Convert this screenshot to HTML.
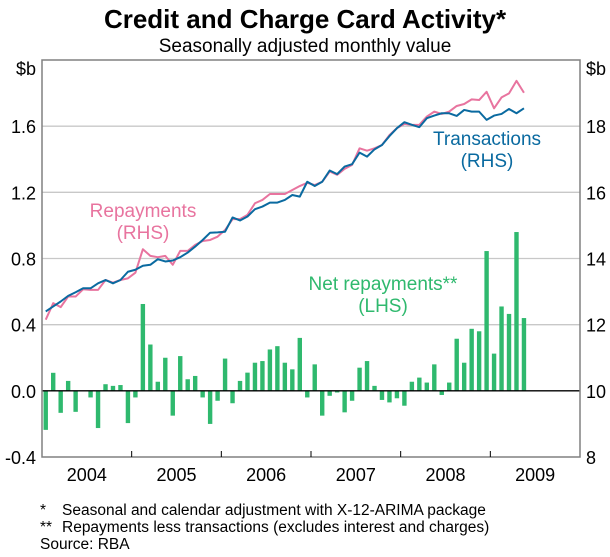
<!DOCTYPE html>
<html><head><meta charset="utf-8"><style>
body{margin:0;background:#fff;}
svg text{font-family:"Liberation Sans",Arial,sans-serif;}
</style></head><body>
<svg id="chart" width="610" height="552" viewBox="0 0 610 552" xmlns="http://www.w3.org/2000/svg">
<text x="305" y="28" text-anchor="middle" font-size="26" font-weight="bold">Credit and Charge Card Activity*</text>
<text x="305" y="52" text-anchor="middle" font-size="19">Seasonally adjusted monthly value</text>
<g id="grid"></g><g id="bars"></g><g id="lines"></g><g id="axes"></g>
<text x="143" y="217" text-anchor="middle" font-size="19" fill="#e8749f">Repayments</text>
<text x="143" y="239" text-anchor="middle" font-size="19" fill="#e8749f">(RHS)</text>
<text x="487" y="145" text-anchor="middle" font-size="19" fill="#0a6aa0">Transactions</text>
<text x="487" y="167" text-anchor="middle" font-size="19" fill="#0a6aa0">(RHS)</text>
<text x="383" y="290" text-anchor="middle" font-size="19" fill="#2fb96e">Net repayments**</text>
<text x="383" y="312" text-anchor="middle" font-size="19" fill="#2fb96e">(LHS)</text>
<g font-size="15.5">
<text x="40" y="515">*</text><text x="62" y="515">Seasonal and calendar adjustment with X-12-ARIMA package</text>
<text x="40" y="532">**</text><text x="62" y="532">Repayments less transactions (excludes interest and charges)</text>
<text x="40" y="549">Source: RBA</text>
</g>
</svg>
<script>
const years = ["2004","2005","2006","2007","2008","2009"];
const lhsTicks = [-0.4,0.0,0.4,0.8,1.2,1.6];
const lhsTickLabels = ["-0.4","0.0","0.4","0.8","1.2","1.6"];
const rhsTicks = [8,10,12,14,16,18];
const rhsTickLabels = ["8","10","12","14","16","18"];
const netRepayments = [-0.236,0.109,-0.133,0.06,-0.127,0.0,-0.04,-0.225,0.04,0.03,0.035,-0.195,-0.04,0.525,0.28,0.055,0.2,-0.15,0.21,0.07,0.09,-0.04,-0.2,-0.06,0.195,-0.075,0.06,0.11,0.17,0.18,0.25,0.27,0.17,0.13,0.32,-0.04,0.16,-0.15,-0.03,-0.01,-0.13,-0.06,0.14,0.18,0.03,-0.055,-0.07,-0.045,-0.09,0.055,0.08,0.05,0.16,-0.025,0.05,0.315,0.17,0.375,0.36,0.845,0.225,0.51,0.465,0.96,0.44];
const transactions = [12.40,12.55,12.70,12.87,12.98,13.10,13.10,13.25,13.35,13.25,13.35,13.60,13.66,13.78,13.81,13.98,13.91,13.94,14.04,14.18,14.36,14.56,14.78,14.79,14.81,15.24,15.15,15.27,15.49,15.57,15.69,15.69,15.77,15.92,15.87,16.32,16.19,16.32,16.66,16.55,16.78,16.85,17.20,17.08,17.30,17.43,17.70,17.94,18.12,18.04,17.97,18.24,18.32,18.39,18.39,18.31,18.49,18.44,18.44,18.19,18.32,18.37,18.52,18.39,18.54];
const repayments = [12.15,12.65,12.53,12.85,12.85,13.07,13.05,13.05,13.35,13.27,13.35,13.40,13.57,14.28,14.08,14.04,14.08,13.81,14.23,14.23,14.41,14.53,14.56,14.66,14.86,15.19,15.19,15.32,15.67,15.77,15.95,15.95,15.95,16.07,16.19,16.29,16.22,16.32,16.63,16.53,16.71,16.83,17.33,17.26,17.33,17.43,17.73,17.94,18.07,18.04,18.04,18.29,18.44,18.37,18.44,18.61,18.67,18.81,18.79,19.04,18.54,18.87,18.99,19.37,19.01];

const NS="http://www.w3.org/2000/svg";
const X0=42,X1=580,Y0=60,Y1=457,MONTHS=72;
const xM=i=>X0+(i+0.5)*(X1-X0)/MONTHS;
const xYear=k=>X0+k*12*(X1-X0)/MONTHS;
const yL=v=>Y1-(v+0.4)/2.4*(Y1-Y0);
const yR=v=>Y1-(v-8)/12*(Y1-Y0);
function mk(tag,attrs,parent){const e=document.createElementNS(NS,tag);for(const k in attrs)e.setAttribute(k,attrs[k]);parent.appendChild(e);return e;}
const grid=document.getElementById('grid'),bars=document.getElementById('bars'),lines=document.getElementById('lines'),axes=document.getElementById('axes');

lhsTicks.forEach((v,i)=>{
  if(v>-0.4&&v!==0){const g=mk('line',{x1:X0,x2:X1,y1:yL(v),y2:yL(v),stroke:'#c8c8c8','stroke-width':1.3},grid);
  
  }
  const t=mk('text',{x:36,y:yL(v)+7,'text-anchor':'end','font-size':18},axes);t.textContent=lhsTickLabels[i];
  
  
});
rhsTicks.forEach((v,i)=>{
  const t=mk('text',{x:586,y:yR(v)+7,'font-size':18},axes);t.textContent=rhsTickLabels[i];
  
  
});
let u=mk('text',{x:36,y:yL(2.0)+15,'text-anchor':'end','font-size':18},axes);u.textContent='$b';


u=mk('text',{x:586,y:yL(2.0)+15,'font-size':18},axes);u.textContent='$b';



netRepayments.forEach((v,i)=>{
  const y=Math.min(yL(v),yL(0)),h=Math.abs(yL(v)-yL(0));
  const b=mk('rect',{x:xM(i)-2.2,y:y,width:4.4,height:h,fill:'#2fb96e'},bars);
  
  
});
function line(data,color,name){
  const p=mk('polyline',{points:data.map((v,i)=>xM(i)+','+yR(v)).join(' '),fill:'none',stroke:color,'stroke-width':2,'stroke-linejoin':'round'},lines);
  
  
}
line(repayments,'#e8749f','repayments-line');
line(transactions,'#0a6aa0','transactions-line');

const z=mk('line',{x1:X0,x2:X1,y1:yL(0),y2:yL(0),stroke:'#000','stroke-width':1.3},axes);


const fr=mk('rect',{x:X0,y:Y0,width:X1-X0,height:Y1-Y0,fill:'none',stroke:'#808080','stroke-width':1.5},axes);


for(let k=1;k<6;k++){
  const t=mk('line',{x1:xYear(k),x2:xYear(k),y1:Y1,y2:Y1-6,stroke:'#000','stroke-width':1},axes);
  
  
}
years.forEach((yr,k)=>{
  const t=mk('text',{x:(xYear(k)+xYear(k+1))/2,y:481,'text-anchor':'middle','font-size':18},axes);t.textContent=yr;
  
  
});
</script>
</body></html>
